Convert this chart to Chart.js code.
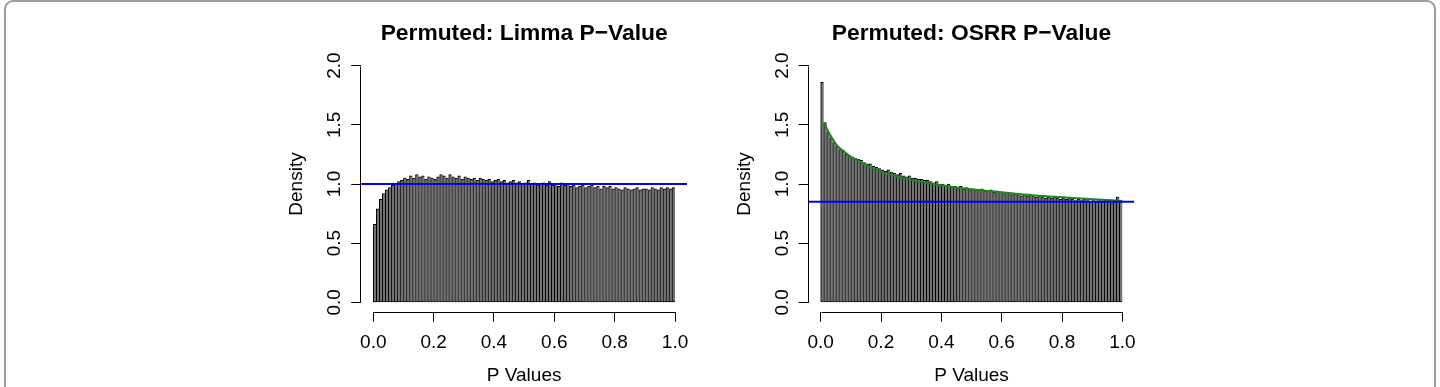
<!DOCTYPE html>
<html><head><meta charset="utf-8">
<script src="https://cdn.jsdelivr.net/npm/chart.js@4.4.1/dist/chart.umd.min.js"></script>
<style>
html,body{margin:0;padding:0;background:#fff;width:1440px;height:387px;overflow:hidden;}
#frame{position:absolute;left:4px;top:0;width:1432px;height:430px;border:2px solid #9c9c9c;border-radius:9px;box-sizing:border-box;}
canvas{position:absolute;top:0;}
</style></head><body>
<div id="frame"></div>
<canvas id="c1" width="720" height="387" style="left:0"></canvas>
<canvas id="c2" width="720" height="387" style="left:720px"></canvas>
<script>
// ---- data ----
const BIN_WIDTH = 0.01;
const xTicks = [0.0, 0.2, 0.4, 0.6, 0.8, 1.0];
const yTicks = [0.0, 0.5, 1.0, 1.5, 2.0];
const X_MIN = -0.04, X_MAX = 1.04, Y_MIN = -0.08, Y_MAX = 2.08;

const limmaTitle = 'Permuted: Limma P\u2212Value';
const osrrTitle = 'Permuted: OSRR P\u2212Value';

const limmaDensity = [
  0.66, 0.79, 0.87, 0.92, 0.95, 0.97, 0.99, 1.00, 1.02, 1.03,
  1.05, 1.04, 1.07, 1.05, 1.08, 1.06, 1.07, 1.04, 1.06, 1.05,
  1.04, 1.06, 1.08, 1.07, 1.05, 1.08, 1.06, 1.05, 1.07, 1.04,
  1.06, 1.05, 1.04, 1.05, 1.03, 1.05, 1.04, 1.03, 1.04, 1.02,
  1.03, 1.04, 1.02, 1.03, 1.01, 1.02, 1.03, 1.01, 1.02, 1.00,
  1.01, 1.03, 1.00, 1.01, 0.99, 1.00, 1.01, 0.99, 1.02, 0.99,
  1.00, 0.98, 1.01, 0.99, 1.00, 0.98, 0.99, 0.97, 0.98, 0.99,
  0.97, 0.98, 0.99, 0.97, 0.98, 0.96, 0.98, 0.97, 0.98, 0.96,
  0.97, 0.96, 0.95, 0.97, 0.96, 0.95, 0.96, 0.97, 0.95, 0.96,
  0.96, 0.95, 0.97, 0.96, 0.95, 0.97, 0.96, 0.97, 0.96, 0.97
];
const limmaRefLine = 1.0;

const osrrDensity = [
  1.86, 1.52, 1.44, 1.39, 1.35, 1.32, 1.29, 1.28, 1.25, 1.24,
  1.23, 1.22, 1.21, 1.20, 1.18, 1.17, 1.17, 1.15, 1.14, 1.13,
  1.12, 1.11, 1.12, 1.10, 1.09, 1.08, 1.09, 1.07, 1.06, 1.07,
  1.05, 1.05, 1.04, 1.04, 1.03, 1.03, 1.02, 1.01, 1.02, 1.00,
  1.00, 0.99, 1.00, 0.98, 0.98, 0.97, 0.98, 0.96, 0.97, 0.96,
  0.96, 0.95, 0.95, 0.96, 0.94, 0.94, 0.95, 0.93, 0.94, 0.93,
  0.92, 0.93, 0.92, 0.91, 0.92, 0.91, 0.90, 0.91, 0.90, 0.91,
  0.90, 0.89, 0.90, 0.89, 0.88, 0.89, 0.88, 0.89, 0.88, 0.87,
  0.88, 0.87, 0.88, 0.87, 0.86, 0.87, 0.86, 0.87, 0.86, 0.85,
  0.86, 0.85, 0.86, 0.85, 0.86, 0.85, 0.84, 0.85, 0.89, 0.85
];
const osrrRefLine = 0.85;
const osrrFitX = [0.012, 0.02, 0.03, 0.04, 0.05, 0.06, 0.08, 0.10, 0.125, 0.15, 0.20, 0.25, 0.30, 0.35, 0.40, 0.45, 0.50, 0.60, 0.70, 0.80, 0.90, 1.00];
const osrrFitY = [1.52, 1.47, 1.42, 1.38, 1.34, 1.31, 1.27, 1.23, 1.195, 1.16, 1.105, 1.065, 1.035, 1.01, 0.99, 0.97, 0.955, 0.93, 0.905, 0.888, 0.872, 0.857];

// ---- chart construction ----
const FONT = "'Liberation Sans', Arial, Helvetica, sans-serif";

const rAxes = {
  id: 'rAxes',
  afterDraw(chart) {
    const {ctx, chartArea, scales: {x, y}} = chart;
    ctx.save();
    ctx.strokeStyle = '#000';
    ctx.lineWidth = 1;
    ctx.beginPath();
    const yb = Math.round(chartArea.bottom) + 0.5;
    ctx.moveTo(Math.round(x.getPixelForValue(xTicks[0])) + 0.5, yb);
    ctx.lineTo(Math.round(x.getPixelForValue(xTicks[xTicks.length - 1])) + 0.5, yb);
    const xl = Math.round(chartArea.left) - 0.5;
    ctx.moveTo(xl, Math.round(y.getPixelForValue(yTicks[0])) + 0.5);
    ctx.lineTo(xl, Math.round(y.getPixelForValue(yTicks[yTicks.length - 1])) + 0.5);
    ctx.stroke();
    ctx.restore();
  }
};

function makeChart(id, title, density, refLine, fit, padLeft, padRight) {
  const bars = density.map((v, i) => ({x: (i + 0.5) * BIN_WIDTH, y: v}));
  const datasets = [
    {
      type: 'line', order: 0,
      data: [{x: X_MIN, y: refLine}, {x: X_MAX, y: refLine}],
      borderColor: '#0000ff', borderWidth: 2, pointRadius: 0
    },
    {
      type: 'bar', order: 2,
      data: bars,
      backgroundColor: '#737373', borderColor: '#000',
      borderWidth: {left: 1, right: 0, top: 1, bottom: 1}, borderSkipped: false,
      barPercentage: 1, categoryPercentage: 1
    }
  ];
  if (fit) {
    datasets.unshift({
      type: 'line', order: 1,
      data: fit.x.map((xv, i) => ({x: xv, y: fit.y[i]})),
      borderColor: '#1d861d', borderWidth: 2, pointRadius: 0,
      cubicInterpolationMode: 'monotone'
    });
  }
  return new Chart(document.getElementById(id), {
    type: 'bar',
    data: {datasets},
    plugins: [rAxes],
    options: {
      responsive: false, animation: false, devicePixelRatio: 1,
      layout: {padding: {left: padLeft, right: padRight, top: 0, bottom: 0}},
      plugins: {
        legend: {display: false}, tooltip: {enabled: false},
        title: {display: true, text: title, fullSize: false, color: '#000',
          font: {family: FONT, size: 22.8, weight: 'bold'}, padding: {top: 20, bottom: 8.84}}
      },
      scales: {
        x: {
          type: 'linear', min: X_MIN, max: X_MAX, offset: false,
          afterBuildTicks: s => { s.ticks = xTicks.map(v => ({value: v})); },
          afterFit: s => { s.height = 75.2; },
          grid: {offset: false, drawOnChartArea: false, drawTicks: true, tickLength: 10, color: '#000', lineWidth: 1},
          border: {display: false},
          ticks: {color: '#000', font: {family: FONT, size: 19}, padding: 9.4, minRotation: 0, maxRotation: 0,
            autoSkip: false, callback: v => Number(v).toFixed(1)},
          title: {display: true, text: 'P Values', color: '#000', font: {family: FONT, size: 19}, padding: 0}
        },
        y: {
          type: 'linear', min: Y_MIN, max: Y_MAX,
          afterBuildTicks: s => { s.ticks = yTicks.map(v => ({value: v})); },
          afterFit: s => { s.width = 75.6; },
          grid: {drawOnChartArea: false, drawTicks: true, tickLength: 10, color: '#000', lineWidth: 1},
          border: {display: false},
          ticks: {color: '#000', font: {family: FONT, size: 19}, padding: 3, minRotation: 90, maxRotation: 90,
            crossAlign: 'center', autoSkip: false, callback: v => Number(v).toFixed(1)},
          title: {display: true, text: 'Density', color: '#000', font: {family: FONT, size: 19}, padding: 0}
        }
      }
    }
  });
}

makeChart('c1', limmaTitle, limmaDensity, limmaRefLine, null, 285.6, 32.9);
makeChart('c2', osrrTitle, osrrDensity, osrrRefLine, {x: osrrFitX, y: osrrFitY}, 13.0, 305.6);
</script>
</body></html>
